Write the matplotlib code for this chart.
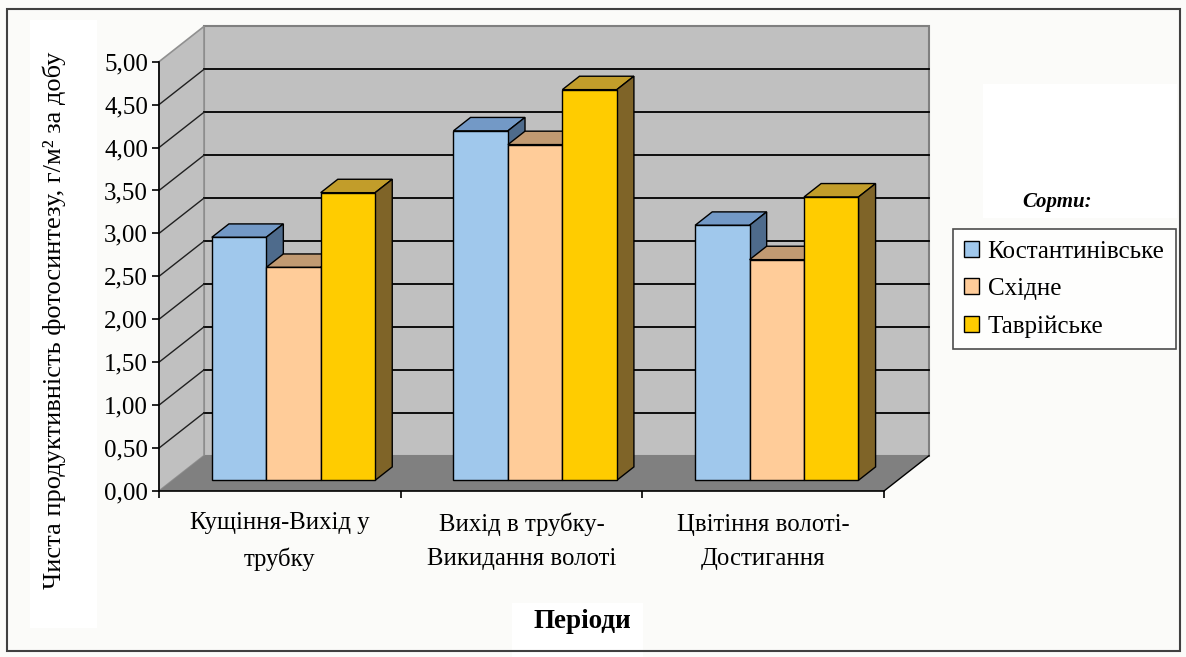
import numpy as np
import matplotlib
matplotlib.use('Agg')
import matplotlib.pyplot as plt
from matplotlib.patches import Polygon, Rectangle
from matplotlib.transforms import blended_transform_factory

plt.rcParams['font.family'] = ['Liberation Serif', 'DejaVu Serif']

# data
periods = ['Кущіння-Вихід у\nтрубку', 'Вихід в трубку-\nВикидання волоті', 'Цвітіння волоті-\nДостигання']
varieties = ['Костантинівське', 'Східне', 'Таврійське']
kostantynivske = [2.83, 4.07, 2.97]
skhidne = [2.48, 3.91, 2.57]
tavriiske = [3.35, 4.55, 3.30]
yticks = [0, 0.5, 1, 1.5, 2, 2.5, 3, 3.5, 4, 4.5, 5]
ytick_labels = ['0,00', '0,50', '1,00', '1,50', '2,00', '2,50', '3,00', '3,50', '4,00', '4,50', '5,00']

front_cols = ['#A0C8EC', '#FFCC99', '#FFCC00']
top_cols = ['#7399C6', '#C19A72', '#C29D2A']
side_cols = ['#4E6B8C', '#806040', '#7F6428']

W, H = 1186, 657
fig = plt.figure(figsize=(W / 100, H / 100), dpi=100)
fig.patch.set_facecolor('#FBFBF9')

# white blocks behind text areas
for (x0, y0, x1, y1) in [(983, 84, 1177, 218), (512, 603, 643, 657), (30, 20, 97, 628)]:
    fig.patches.append(Rectangle((x0 / W, 1 - y1 / H), (x1 - x0) / W, (y1 - y0) / H,
                                 transform=fig.transFigure, facecolor='#FFFFFF', edgecolor='none', zorder=0))
# outer border
fig.patches.append(Rectangle((7 / W, 1 - 651 / H), (1180 - 7) / W, (651 - 9) / H,
                             transform=fig.transFigure, facecolor='none', edgecolor='#404040', lw=1.5, zorder=1))

ax_l, ax_r, ax_t, ax_b = 159, 884, 61.7, 491
ax = fig.add_axes([ax_l / W, 1 - ax_b / H, (ax_r - ax_l) / W, (ax_b - ax_t) / H])
ax.set_xlim(0, 3)
ax.set_ylim(0, 5)
ax.patch.set_visible(False)

ncat = len(periods)
ymax = 5
# depth vector of the floor (in data units)
ddx = 45 / ((ax_r - ax_l) / ncat)
ddy = 35.3 / ((ax_b - ax_t) / ymax)

# walls and floor
back = Polygon([(ddx, ddy), (ncat + ddx, ddy), (ncat + ddx, ymax + ddy), (ddx, ymax + ddy)],
               closed=True, facecolor='#C0C0C0', edgecolor='#808080', lw=1.5, clip_on=False, zorder=0.5)
side = Polygon([(0, 0), (ddx, ddy), (ddx, ymax + ddy), (0, ymax)],
               closed=True, facecolor='#C0C0C0', edgecolor='#909090', lw=1.2, clip_on=False, zorder=0.6)
floor = Polygon([(0, 0), (ncat, 0), (ncat + ddx, ddy), (ddx, ddy)],
                closed=True, facecolor='#808080', edgecolor='none', clip_on=False, zorder=0.7)
for p in (back, side, floor):
    ax.add_patch(p)
ax.plot([ncat, ncat + ddx], [0, ddy], color='black', lw=1, clip_on=False, zorder=0.8)

for v in yticks[1:-1]:
    ax.plot([ddx, ncat + ddx], [v + ddy, v + ddy], color='black', lw=1.3, clip_on=False, zorder=0.65)
    ax.plot([0, ddx], [v, v + ddy], color='#202020', lw=1, clip_on=False, zorder=0.65)

# bars
zf = 0.303   # depth of the bar front
bd = 0.38    # bar depth
gap = 0.162
bw = (1 - 2 * gap) / 3
series = [kostantynivske, skhidne, tavriiske]
handles = []
for i, vals in enumerate(series):
    xs = np.arange(ncat) + gap + i * bw + zf * ddx
    base = zf * ddy
    for x, v in zip(xs, vals):
        top = Polygon([(x, base + v), (x + bw, base + v), (x + bw + bd * ddx, base + v + bd * ddy),
                       (x + bd * ddx, base + v + bd * ddy)], closed=True, facecolor=top_cols[i],
                      edgecolor='black', lw=1, clip_on=False, zorder=3 + 2 * i)
        sd = Polygon([(x + bw, base), (x + bw, base + v), (x + bw + bd * ddx, base + v + bd * ddy),
                      (x + bw + bd * ddx, base + bd * ddy)], closed=True, facecolor=side_cols[i],
                     edgecolor='black', lw=1, clip_on=False, zorder=3 + 2 * i)
        ax.add_patch(top)
        ax.add_patch(sd)
    b = ax.bar(xs, vals, bw, bottom=base, align='edge', color=front_cols[i], edgecolor='black',
               lw=1, label=varieties[i], clip_on=False, zorder=4 + 2 * i)
    handles.append(b)

# axes styling
for s in ['top', 'right']:
    ax.spines[s].set_visible(False)
for s in ['left', 'bottom']:
    ax.spines[s].set_color('black')
    ax.spines[s].set_linewidth(1.2)
    ax.spines[s].set_zorder(20)
ax.set_yticks(yticks)
ax.set_yticklabels(ytick_labels, fontsize=18)
ax.set_xticks(range(ncat + 1))
ax.set_xticklabels([])
ax.tick_params(axis='both', direction='out', length=5, width=1.2, color='black')
ax.tick_params(axis='y', pad=3)

tr = blended_transform_factory(ax.transData, fig.transFigure)
for i, lab in enumerate(periods):
    ax.text(i + 0.5, 1 - 541.7 / H, lab, transform=tr, ha='center', va='center',
            fontsize=17.8, linespacing=1.7)

fig.text(582 / W, 1 - 621.7 / H, 'Періоди', ha='center', va='center', fontsize=19.5, fontweight='bold')
fig.text(54 / W, 1 - 320 / H, 'Чиста продуктивність фотосинтезу, г/м² за добу', rotation=90,
         ha='center', va='center', fontsize=19)
fig.text(1057.5 / W, 1 - 201.7 / H, 'Сорти:', ha='center', va='center', fontsize=15,
         fontweight='bold', fontstyle='italic')

leg = fig.legend(handles=handles, labels=varieties, loc='upper left',
                 bbox_to_anchor=(952.7 / W, 1 - 229.3 / H), fontsize=18, frameon=True, fancybox=False,
                 handlelength=0.6, handleheight=0.6, handletextpad=0.35, labelspacing=0.62,
                 borderpad=0.45, borderaxespad=0)
leg.get_frame().set_edgecolor('#202020')
leg.get_frame().set_facecolor('white')
leg.get_frame().set_linewidth(1.2)

fig.savefig('out.png', dpi=100, facecolor=fig.get_facecolor())
